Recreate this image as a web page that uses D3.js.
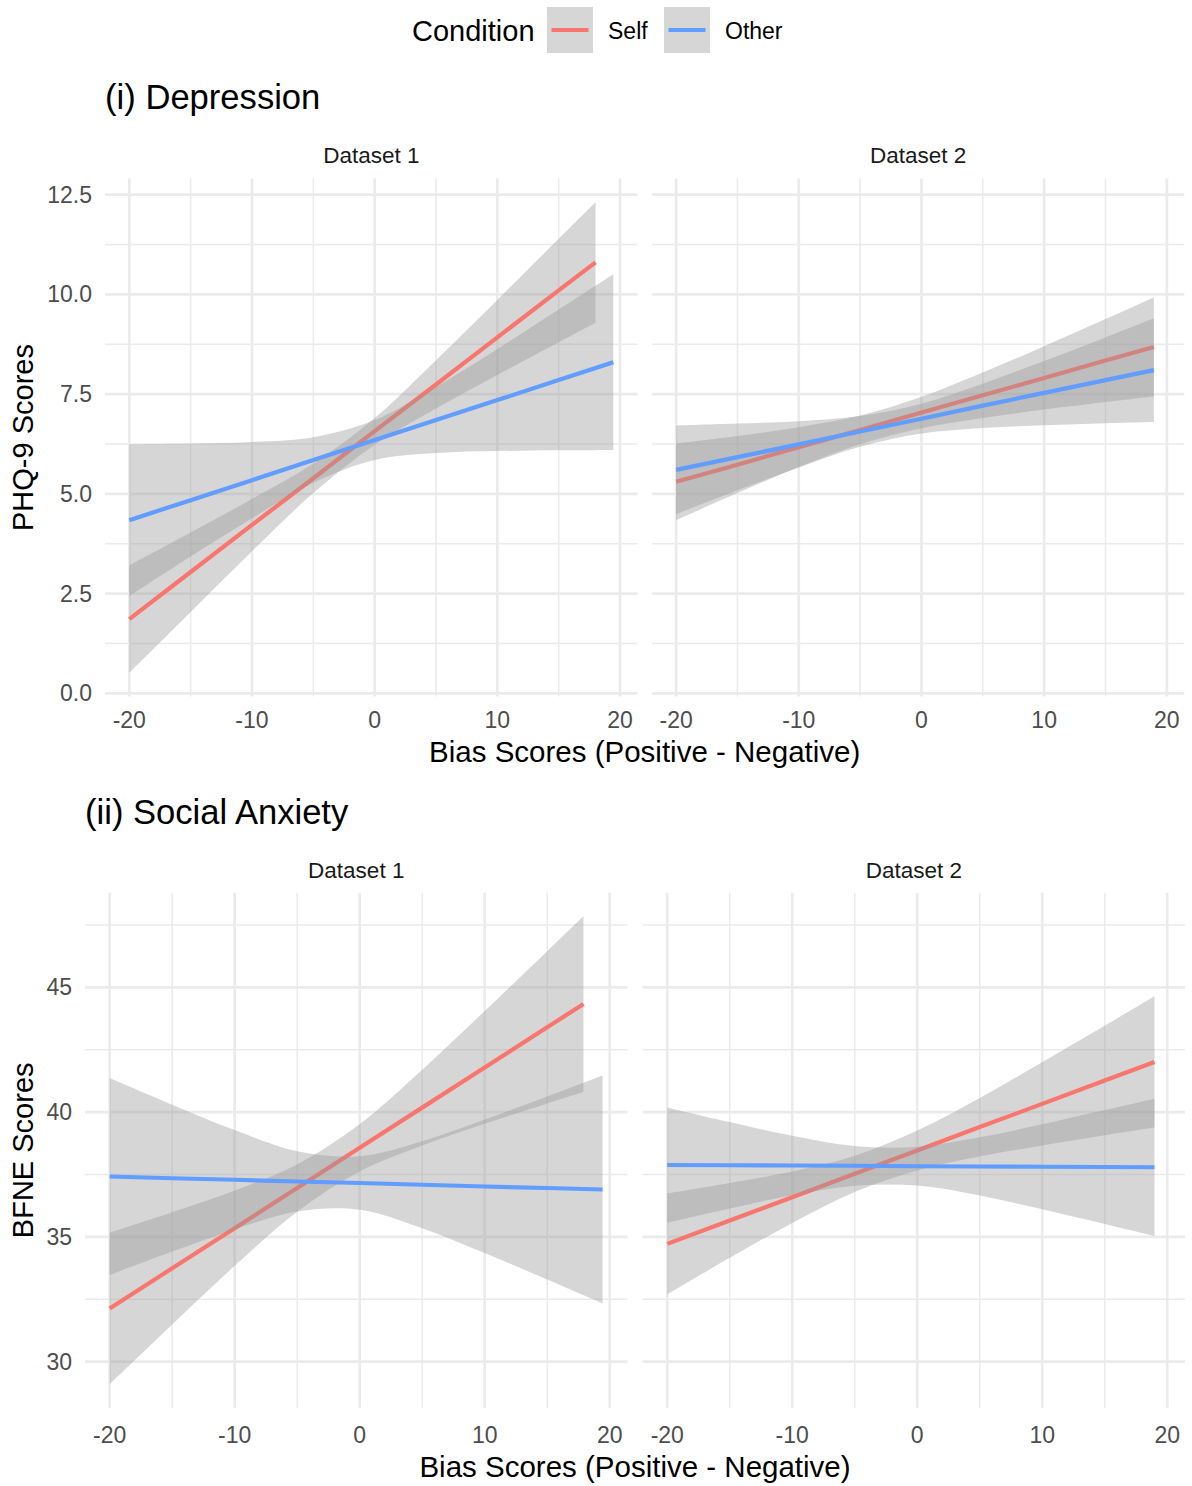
<!DOCTYPE html>
<html>
<head>
<meta charset="utf-8">
<script src="https://cdn.jsdelivr.net/npm/d3@7"></script>
<style>
  body { margin: 0; background: #ffffff; }
  text { font-family: "Liberation Sans", Arial, Helvetica, sans-serif; }
</style>
</head>
<body>
<svg id="chart" width="1192" height="1486"></svg>
<script>
// ---- Categories and labels ----
const conditions = ["Self", "Other"];
const conditionColors = ["#F8766D", "#619CFF"];
const datasets = ["Dataset 1", "Dataset 2"];
const sectionTitles = ["(i) Depression", "(ii) Social Anxiety"];
const yTitles = ["PHQ-9 Scores", "BFNE Scores"];
const xTitle = "Bias Scores (Positive - Negative)";
const legendTitle = "Condition";

// ---- Tick values ----
const xTicks = [-20, -10, 0, 10, 20];
const xMinor = [-15, -5, 5, 15];
const phqTicks = [0, 2.5, 5, 7.5, 10, 12.5];
const phqMinor = [1.25, 3.75, 6.25, 8.75, 11.25];
const bfneTicks = [30, 35, 40, 45];
const bfneMinor = [32.5, 37.5, 42.5, 47.5];

// ---- Fitted lines and 95% bands: Depression, Dataset 1 ----
const dep1SelfX   = [-20, -15, -10, -5, 0, 5, 10, 15, 18];
const dep1SelfFit = [1.86, 3.04, 4.22, 5.39, 6.57, 7.74, 8.92, 10.10, 10.80];
const dep1SelfLo  = [0.51, 2.04, 3.56, 5.02, 6.23, 7.14, 7.98, 8.80, 9.29];
const dep1SelfHi  = [3.21, 4.03, 4.87, 5.76, 6.90, 8.35, 9.86, 11.39, 12.31];
const dep1OtherX   = [-20, -15, -10, -5, 0, 5, 10, 15, 19.45];
const dep1OtherFit = [4.34, 4.84, 5.34, 5.85, 6.35, 6.85, 7.35, 7.85, 8.30];
const dep1OtherLo  = [2.44, 3.43, 4.39, 5.28, 5.85, 6.02, 6.07, 6.09, 6.10];
const dep1OtherHi  = [6.24, 6.26, 6.30, 6.42, 6.85, 7.68, 8.63, 9.62, 10.50];

// ---- Depression, Dataset 2 ----
const dep2SelfX   = [-20, -15, -10, -5, 0, 5, 10, 15, 18.94];
const dep2SelfFit = [5.30, 5.73, 6.17, 6.60, 7.04, 7.47, 7.90, 8.34, 8.68];
const dep2SelfLo  = [4.34, 5.02, 5.67, 6.24, 6.64, 6.90, 7.11, 7.30, 7.44];
const dep2SelfHi  = [6.26, 6.45, 6.67, 6.96, 7.43, 8.04, 8.70, 9.38, 9.92];
const dep2OtherX   = [-20, -15, -10, -5, 0, 5, 10, 15, 18.94];
const dep2OtherFit = [5.60, 5.92, 6.24, 6.56, 6.88, 7.21, 7.53, 7.85, 8.10];
const dep2OtherLo  = [4.49, 5.09, 5.66, 6.18, 6.51, 6.65, 6.72, 6.77, 6.80];
const dep2OtherHi  = [6.71, 6.76, 6.82, 6.95, 7.26, 7.76, 8.33, 8.92, 9.40];

// ---- Social Anxiety, Dataset 1 ----
const soc1SelfX   = [-20, -15, -10, -5, 0, 5, 10, 15, 17.9];
const soc1SelfFit = [32.13, 33.74, 35.35, 36.96, 38.57, 40.18, 41.79, 43.40, 44.33];
const soc1SelfLo  = [29.09, 31.49, 33.84, 36.01, 37.62, 38.66, 39.53, 40.35, 40.81];
const soc1SelfHi  = [35.17, 35.99, 36.86, 37.90, 39.52, 41.70, 44.05, 46.45, 47.85];
const soc1OtherX   = [-20, -15, -10, -5, 0, 5, 10, 15, 19.43];
const soc1OtherFit = [37.42, 37.35, 37.29, 37.22, 37.16, 37.09, 37.02, 36.96, 36.90];
const soc1OtherLo  = [33.47, 34.41, 35.30, 36.02, 36.09, 35.35, 34.35, 33.29, 32.33];
const soc1OtherHi  = [41.37, 40.30, 39.28, 38.43, 38.23, 38.83, 39.70, 40.63, 41.47];

// ---- Social Anxiety, Dataset 2 ----
const soc2SelfX   = [-20, -15, -10, -5, 0, 5, 10, 15, 18.98];
const soc2SelfFit = [34.72, 35.66, 36.59, 37.53, 38.46, 39.40, 40.33, 41.27, 42.01];
const soc2SelfLo  = [32.70, 34.16, 35.56, 36.80, 37.66, 38.22, 38.66, 39.07, 39.38];
const soc2SelfHi  = [36.74, 37.16, 37.62, 38.25, 39.26, 40.57, 42.00, 43.46, 44.64];
const soc2OtherX   = [-20, -15, -10, -5, 0, 5, 10, 15, 18.98];
const soc2OtherFit = [37.88, 37.87, 37.86, 37.85, 37.83, 37.82, 37.81, 37.80, 37.79];
const soc2OtherLo  = [35.57, 36.14, 36.67, 37.05, 37.06, 36.66, 36.11, 35.52, 35.04];
const soc2OtherHi  = [40.19, 39.60, 39.05, 38.64, 38.61, 38.99, 39.51, 40.08, 40.54];

// ---- Assemble per-panel series ----
function series(x, fit, lo, hi) {
  return x.map((v, i) => ({ x: v, fit: fit[i], lo: lo[i], hi: hi[i] }));
}
const panelSeries = [
  [ // Depression row
    [series(dep1SelfX, dep1SelfFit, dep1SelfLo, dep1SelfHi), series(dep1OtherX, dep1OtherFit, dep1OtherLo, dep1OtherHi)],
    [series(dep2SelfX, dep2SelfFit, dep2SelfLo, dep2SelfHi), series(dep2OtherX, dep2OtherFit, dep2OtherLo, dep2OtherHi)]
  ],
  [ // Social anxiety row
    [series(soc1SelfX, soc1SelfFit, soc1SelfLo, soc1SelfHi), series(soc1OtherX, soc1OtherFit, soc1OtherLo, soc1OtherHi)],
    [series(soc2SelfX, soc2SelfFit, soc2SelfLo, soc2SelfHi), series(soc2OtherX, soc2OtherFit, soc2OtherLo, soc2OtherHi)]
  ]
];
const rowTicks = [[phqTicks, phqMinor], [bfneTicks, bfneMinor]];
const rowTickFormat = [d3.format(".1f"), d => String(d)];

// ---- Layout ----
const rows = [
  { top: 178.6, bottom: 696.5, panels: [[105.1, 637.5], [651.9, 1184.3]],
    titleY: 109, stripY: 163, xLabelY: 728, xTitleY: 762, yLabelX: 92 },
  { top: 892.8, bottom: 1407.8, panels: [[85.0, 627.5], [642.6, 1185.0]],
    titleY: 824, stripY: 878, xLabelY: 1443, xTitleY: 1477, yLabelX: 72 }
];

const svg = d3.select("#chart");
svg.append("rect").attr("width", 1192).attr("height", 1486).attr("fill", "#ffffff");

// ggplot-style 5% expansion of the data range
function expanded(lo, hi) { const p = (hi - lo) * 0.05; return [lo - p, hi + p]; }

const allX = panelSeries.flat(3).map(d => d.x);
const xDomain = expanded(d3.min(allX), d3.max(allX));

rows.forEach((row, r) => {
  const rowData = panelSeries[r].flat(2);
  const yDomain = expanded(d3.min(rowData, d => d.lo), d3.max(rowData, d => d.hi));
  const y = d3.scaleLinear().domain(yDomain).range([row.bottom, row.top]);
  const [majorY, minorY] = rowTicks[r];

  // Section title
  svg.append("text").attr("x", row.panels[0][0]).attr("y", row.titleY)
    .attr("font-size", 34.6).attr("fill", "#000").text(sectionTitles[r]);

  row.panels.forEach((pr, p) => {
    const x = d3.scaleLinear().domain(xDomain).range(pr);
    const g = svg.append("g");

    // Minor grid
    g.selectAll(".gxm").data(xMinor).join("line")
      .attr("x1", d => x(d)).attr("x2", d => x(d)).attr("y1", row.top).attr("y2", row.bottom)
      .attr("stroke", "#EBEBEB").attr("stroke-width", 1.5);
    g.selectAll(".gym").data(minorY.filter(v => v >= yDomain[0] && v <= yDomain[1])).join("line")
      .attr("y1", d => y(d)).attr("y2", d => y(d)).attr("x1", pr[0]).attr("x2", pr[1])
      .attr("stroke", "#EBEBEB").attr("stroke-width", 1.5);
    // Major grid
    g.selectAll(".gx").data(xTicks).join("line")
      .attr("x1", d => x(d)).attr("x2", d => x(d)).attr("y1", row.top).attr("y2", row.bottom)
      .attr("stroke", "#EBEBEB").attr("stroke-width", 2.7);
    g.selectAll(".gy").data(majorY).join("line")
      .attr("y1", d => y(d)).attr("y2", d => y(d)).attr("x1", pr[0]).attr("x2", pr[1])
      .attr("stroke", "#EBEBEB").attr("stroke-width", 2.7);

    // Ribbons and fitted lines, drawn group by group
    const area = d3.area().x(d => x(d.x)).y0(d => y(d.lo)).y1(d => y(d.hi))
      .curve(d3.curveCatmullRom.alpha(0.5));
    const line = d3.line().x(d => x(d.x)).y(d => y(d.fit));
    panelSeries[r][p].forEach((s, c) => {
      g.append("path").attr("d", area(s)).attr("fill", "#999999").attr("fill-opacity", 0.4);
      g.append("path").attr("d", line(s)).attr("fill", "none")
        .attr("stroke", conditionColors[c]).attr("stroke-width", 4.2);
    });

    // Strip label
    svg.append("text").attr("x", (pr[0] + pr[1]) / 2).attr("y", row.stripY)
      .attr("text-anchor", "middle").attr("font-size", 22.5).attr("fill", "#1A1A1A")
      .text(datasets[p]);

    // X tick labels
    svg.append("g").selectAll("text").data(xTicks).join("text")
      .attr("x", d => x(d)).attr("y", row.xLabelY).attr("text-anchor", "middle")
      .attr("font-size", 23).attr("fill", "#4D4D4D").text(d => String(d));

    // Y tick labels on the left panel only
    if (p === 0) {
      svg.append("g").selectAll("text").data(majorY).join("text")
        .attr("x", row.yLabelX).attr("y", d => y(d) + 8).attr("text-anchor", "end")
        .attr("font-size", 23).attr("fill", "#4D4D4D").text(d => rowTickFormat[r](d));
    }
  });

  // Axis titles
  svg.append("text").attr("x", (row.panels[0][0] + row.panels[1][1]) / 2).attr("y", row.xTitleY)
    .attr("text-anchor", "middle").attr("font-size", 29.5).attr("fill", "#000").text(xTitle);
  svg.append("text")
    .attr("transform", `translate(33,${(row.top + row.bottom) / 2}) rotate(-90)`)
    .attr("text-anchor", "middle").attr("font-size", 29).attr("fill", "#000").text(yTitles[r]);
});

// ---- Legend ----
const legend = svg.append("g");
legend.append("text").attr("x", 412).attr("y", 41).attr("font-size", 29).attr("fill", "#000").text(legendTitle);
const keyX = [547, 664];
const labelX = [608, 725];
conditions.forEach((c, i) => {
  legend.append("rect").attr("x", keyX[i]).attr("y", 7).attr("width", 46).attr("height", 46)
    .attr("fill", "#999999").attr("fill-opacity", 0.4);
  legend.append("line").attr("x1", keyX[i] + 4.5).attr("x2", keyX[i] + 41.5)
    .attr("y1", 30).attr("y2", 30).attr("stroke", conditionColors[i]).attr("stroke-width", 4.2);
  legend.append("text").attr("x", labelX[i]).attr("y", 39).attr("font-size", 23).attr("fill", "#000").text(c);
});
</script>
</body>
</html>
